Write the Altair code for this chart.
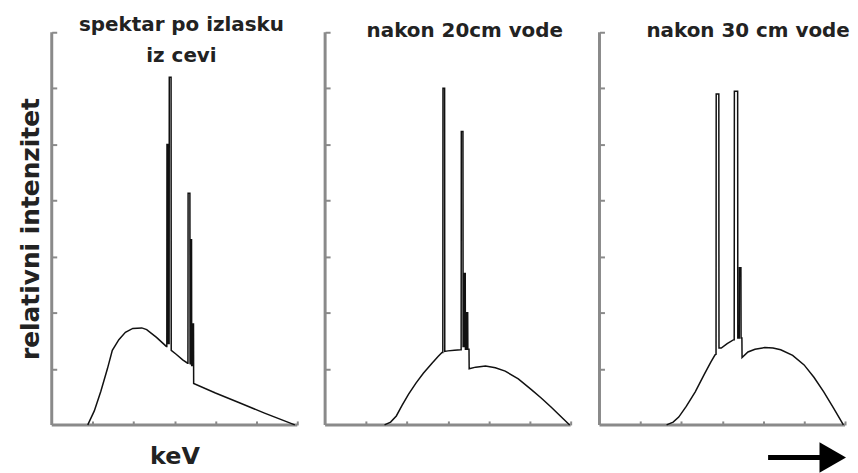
import altair as alt
import pandas as pd

# ---- data (x in keV-like units 0..150, y in relative units 0..7) ----
# panel 1: spectrum at the tube exit
x1 = [22, 26, 30, 34, 37, 41, 45, 49.5, 55, 58, 64, 70,
      70.3, 70.4, 70.9, 71.0, 71.7, 71.8, 72.9, 73.0,
      76, 80, 83.0,
      83.2, 83.3, 84.4, 84.5, 84.8, 84.9, 85.4, 85.5, 85.9, 86.0, 86.6, 86.7,
      100, 115, 130, 148.5]
y1 = [0, 0.25, 0.6, 1.0, 1.33, 1.52, 1.65, 1.72, 1.73, 1.70, 1.56, 1.40,
      1.40, 5.0, 5.0, 1.45, 1.45, 6.2, 6.2, 1.33,
      1.26, 1.16, 1.10,
      1.10, 4.13, 4.13, 1.10, 1.08, 3.3, 3.3, 1.06, 1.06, 1.8, 1.8, 0.74,
      0.57, 0.39, 0.21, 0.0]

# panel 2: after 20 cm of water
x2 = [36.3, 40, 43.5, 47, 51, 55.6, 60, 65.3, 69, 71.4,
      71.9, 72.0, 73.0, 73.1,
      75, 79, 82.8,
      83.1, 83.2, 84.2, 84.3, 84.8, 84.9, 85.6, 85.7, 86.3, 86.4, 87.1, 87.2, 87.9, 88.0,
      92, 98, 104, 110, 118, 126, 132, 138, 144, 149.4]
y2 = [0, 0.05, 0.16, 0.35, 0.55, 0.75, 0.92, 1.10, 1.22, 1.29,
      1.29, 6.0, 6.0, 1.31,
      1.32, 1.33, 1.34,
      1.34, 5.23, 5.23, 1.40, 1.40, 2.7, 2.7, 1.35, 1.35, 2.0, 2.0, 1.35, 1.35, 1.0,
      1.03, 1.05, 1.02, 0.96, 0.82, 0.63, 0.48, 0.32, 0.15, 0]

# panel 3: after 30 cm of water
x3 = [41, 45, 48.4, 53, 58.5, 64, 68, 70.6,
      71.2, 71.3, 72.9, 73.0,
      74.4, 78, 82,
      82.3, 82.4, 84.4, 84.5, 85.4, 85.5, 86.4, 86.5, 87.0, 87.1,
      90.7, 95, 101, 106, 110.7, 118, 125, 131, 137, 143, 149]
y3 = [0, 0.05, 0.14, 0.33, 0.59, 0.90, 1.12, 1.25,
      1.26, 5.9, 5.9, 1.37,
      1.37, 1.45, 1.52,
      1.52, 5.95, 5.95, 1.55, 1.55, 2.8, 2.8, 1.55, 1.55, 1.2,
      1.30, 1.35, 1.38, 1.37, 1.34, 1.24, 1.07, 0.85, 0.59, 0.30, 0]

titles = [["spektar po izlasku", "iz cevi"], "nakon 20cm vode", "nakon 30 cm vode"]
title_dx = [7, 17, 26]
title_offset = [-51, -26, -26]
x_ticks = [25, 50, 75, 100, 125, 150]
y_ticks = [1, 2, 3, 4, 5, 6, 7]
X_MAX = 150
Y_MAX = 7
y_label = "relativni intenzitet"
x_label = "keV"

# arrow below the last panel (data units)
arrow_x = [103, 137]
arrow_head_x = 142.5
arrow_y = -0.58

FONT = "DejaVu Sans"
AXIS_GRAY = "#8a8a8a"
W, H = 247, 395


def panel(xs, ys, k):
    df = pd.DataFrame({"keV": xs, "I": ys, "order": list(range(len(xs)))})
    xscale = alt.Scale(domain=[0, X_MAX], nice=False, zero=False)
    yscale = alt.Scale(domain=[0, Y_MAX], nice=False, zero=False)
    first = k == 0
    xaxis = alt.Axis(values=x_ticks, labels=False, domain=False, grid=False,
                     tickSize=4, offset=-4, tickColor=AXIS_GRAY, tickWidth=2,
                     titleFont=FONT, titleFontSize=24, titleFontWeight="bold",
                     titleColor="#222", titlePadding=19)
    yaxis = alt.Axis(values=y_ticks, labels=False, domain=False, grid=False,
                     tickSize=5, offset=-5, tickColor=AXIS_GRAY, tickWidth=2,
                     titleFont=FONT, titleFontSize=25, titleFontWeight="bold",
                     titleColor="#222", titlePadding=7)
    line = alt.Chart(df).mark_line(color="#111", strokeWidth=1.5).encode(
        x=alt.X("keV:Q", scale=xscale, axis=xaxis,
                title=x_label if first else None),
        y=alt.Y("I:Q", scale=yscale, axis=yaxis,
                title=y_label if first else None),
        order="order:Q",
    )
    one = pd.DataFrame({"a": [0]})
    yline = alt.Chart(one).mark_rule(color=AXIS_GRAY, strokeWidth=3).encode(
        x=alt.datum(0), y=alt.datum(0), y2=alt.datum(Y_MAX))
    xline = alt.Chart(one).mark_rule(color=AXIS_GRAY, strokeWidth=3).encode(
        x=alt.datum(0), x2=alt.datum(X_MAX), y=alt.datum(0))
    layers = [yline, xline, line]
    if k == 2:
        shaft = alt.Chart(one).mark_rule(color="#000", strokeWidth=5).encode(
            x=alt.datum(arrow_x[0]), x2=alt.datum(arrow_x[1]), y=alt.datum(arrow_y))
        head = alt.Chart(one).mark_point(shape="triangle-right", filled=True,
                                         color="#000", size=950, opacity=1).encode(
            x=alt.datum(arrow_head_x), y=alt.datum(arrow_y))
        layers += [shaft, head]
    return alt.layer(*layers).properties(
        width=W, height=H,
        title=alt.TitleParams(text=titles[k], font=FONT, fontSize=20,
                              fontWeight="bold", color="#222", anchor="middle",
                              frame="group", dx=title_dx[k],
                              offset=title_offset[k], baseline="alphabetic",
                              lineHeight=31),
    )


chart = alt.hconcat(panel(x1, y1, 0), panel(x2, y2, 1), panel(x3, y3, 2),
                    spacing=24).properties(
    padding={"left": 11, "top": 5, "right": 0, "bottom": 5}
).configure_view(stroke=None)

chart.save("out.html", embed_options={"renderer": "svg", "actions": False})
